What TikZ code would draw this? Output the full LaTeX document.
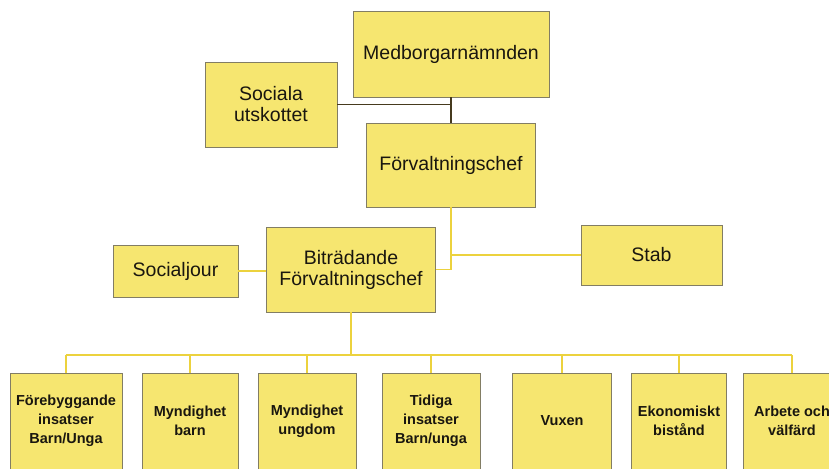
\documentclass[tikz,border=0pt]{standalone}
\usepackage{fontspec}
\setmainfont{Liberation Sans}
\usetikzlibrary{shadows}
\definecolor{boxfill}{RGB}{246,230,112}
\definecolor{boxedge}{RGB}{130,125,100}
\definecolor{yline}{RGB}{236,210,62}
\definecolor{dline}{RGB}{70,58,30}
\definecolor{txt}{RGB}{25,22,15}
\tikzset{
  orgbox/.style={draw=boxedge, line width=0.6pt, fill=boxfill, text=txt, align=center,
    inner sep=2pt, drop shadow={opacity=0.25, shadow xshift=0.8pt, shadow yshift=-1pt}},
  topbox/.style={orgbox, font=\fontsize{19.5}{21}\selectfont},
  unitbox/.style={orgbox, font=\fontsize{14.5}{19}\selectfont\bfseries, minimum width=98pt, minimum height=96pt},
  yconn/.style={draw=yline, line width=1.3pt},
  dconn/.style={draw=dline, line width=1.2pt}
}
\begin{document}
\begin{tikzpicture}[x=1pt,y=-1pt]
\useasboundingbox (0,0) rectangle (829,468);
\clip (0,0) rectangle (829,468);
\fill[white] (0,0) rectangle (829,468);

% top level
\node[topbox, minimum width=196pt, minimum height=86pt] (med) at (451,54) {Medborgarnämnden};
\node[topbox, minimum width=132pt, minimum height=85pt] (soc) at (271,104.5) {Sociala\\utskottet};
\node[topbox, minimum width=169pt, minimum height=84pt] (forv) at (451,165) {Förvaltningschef};
\node[topbox, minimum width=125pt, minimum height=52pt] (jour) at (175.5,271) {Socialjour};
\node[topbox, minimum width=169pt, minimum height=85pt] (bit) at (351,269.5) {Biträdande\\Förvaltningschef};
\node[topbox, minimum width=141pt, minimum height=60pt] (stab) at (651.5,255) {Stab};

% units
\node[unitbox, minimum width=112pt] (u1) at (66,421) {Förebyggande\\insatser\\Barn/Unga};
\node[unitbox, minimum width=96pt] (u2) at (190,421) {Myndighet\\barn};
\node[unitbox] (u3) at (307,421) {Myndighet\\ungdom};
\node[unitbox] (u4) at (431,421) {Tidiga\\insatser\\Barn/unga};
\node[unitbox, minimum width=99pt] (u5) at (562,421) {Vuxen};
\node[unitbox, minimum width=95pt] (u6) at (679,421) {Ekonomiskt\\bistånd};
\node[unitbox] (u7) at (792,421) {Arbete och\\välfärd};

% dark connectors
\draw[dconn] (med.south) -- (med.south |- forv.north);
\draw[dconn] (soc.east) -- (soc.east -| med.south);

% yellow connectors
\coordinate (bus) at (351,355);
\draw[yconn] (forv.south) -- (forv.south |- bit.east) -- (bit.east);
\draw[yconn] (stab.west) -- (stab.west -| forv.south);
\draw[yconn] (jour.east) -- (jour.east -| bit.west);
\draw[yconn] (bit.south) -- (bit.south |- bus);
\draw[yconn] (u1.north |- bus) -- (u7.north |- bus);
\foreach \u in {u1,u2,u3,u4,u5,u6,u7}{
  \draw[yconn] (\u.north) -- (\u.north |- bus);
}
\end{tikzpicture}
\end{document}
